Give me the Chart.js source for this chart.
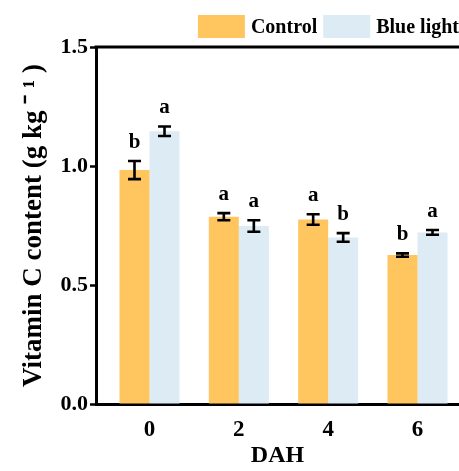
<!DOCTYPE html>
<html>
<head>
<meta charset="utf-8">
<script src="https://cdn.jsdelivr.net/npm/chart.js@4.4.1/dist/chart.umd.min.js"></script>
<style>
  html, body { margin: 0; padding: 0; background: #ffffff; }
  #wrap { width: 459px; height: 471px; position: relative; }
</style>
</head>
<body>
<div id="wrap"><canvas id="c"></canvas></div>
<script>
// Days after harvest (DAH)
const dah = [0, 2, 4, 6];

// Vitamin C content (g kg-1), means and standard deviations
const controlMeans = [0.983, 0.787, 0.775, 0.626];
const controlErr   = [0.038, 0.015, 0.022, 0.007];
const blueMeans    = [1.146, 0.748, 0.700, 0.721];
const blueErr      = [0.020, 0.024, 0.018, 0.010];

// Significance letters
const controlLetters = ['b', 'a', 'a', 'b'];
const blueLetters    = ['a', 'a', 'b', 'a'];

const seriesNames = ['Control', 'Blue light'];
const yTicks = [0, 0.5, 1.0, 1.5];

const SERIF = '"Liberation Serif", "Times New Roman", serif';
const ORANGE = '#FFC660';
const BLUE = '#DDEBF5';

const errors = [controlErr, blueErr];
const letters = [controlLetters, blueLetters];

// Error bars with caps plus significance letters above each bar
const errorBarPlugin = {
  id: 'errorBars',
  afterDatasetsDraw(chart) {
    const ctx = chart.ctx;
    const y = chart.scales.y;
    ctx.save();
    chart.data.datasets.forEach((ds, di) => {
      const meta = chart.getDatasetMeta(di);
      meta.data.forEach((bar, i) => {
        const v = ds.data[i].y;
        const e = errors[di][i];
        const yHi = y.getPixelForValue(v + e);
        const yLo = y.getPixelForValue(v - e);
        const cap = 6.5;
        ctx.strokeStyle = '#000';
        ctx.lineWidth = 2.6;
        ctx.lineCap = 'butt';
        ctx.beginPath();
        ctx.moveTo(bar.x, yHi); ctx.lineTo(bar.x, yLo);
        ctx.moveTo(bar.x - cap, yHi); ctx.lineTo(bar.x + cap, yHi);
        ctx.moveTo(bar.x - cap, yLo); ctx.lineTo(bar.x + cap, yLo);
        ctx.stroke();
        ctx.fillStyle = '#000';
        ctx.font = 'bold 21px ' + SERIF;
        ctx.textAlign = 'center';
        ctx.textBaseline = 'alphabetic';
        ctx.fillText(letters[di][i], bar.x, yHi - 13);
      });
    });
    ctx.restore();
  }
};

// Top frame line of the plot area
const frameTopPlugin = {
  id: 'frameTop',
  afterDraw(chart) {
    const {ctx, chartArea} = chart;
    ctx.save();
    ctx.strokeStyle = '#000';
    ctx.lineWidth = 3;
    ctx.beginPath();
    ctx.moveTo(chartArea.left - 1.5, chartArea.top);
    ctx.lineTo(chartArea.right, chartArea.top);
    ctx.stroke();
    ctx.restore();
  }
};

// Legend: filled boxes with labels, right-aligned above the plot
const legendPlugin = {
  id: 'boxLegend',
  afterDraw(chart) {
    const ctx = chart.ctx;
    const boxW = 47, boxH = 23, gap = 6, boxTop = 15;
    ctx.save();
    ctx.font = 'bold 20px ' + SERIF;
    const items = chart.data.datasets.map(ds => ({
      label: ds.label, color: ds.backgroundColor, w: ctx.measureText(ds.label).width
    }));
    let total = 0;
    items.forEach((it, i) => { total += boxW + gap + it.w + (i < items.length - 1 ? gap : 0); });
    let x = chart.width - total;
    items.forEach(it => {
      ctx.fillStyle = it.color;
      ctx.fillRect(x, boxTop, boxW, boxH);
      x += boxW + gap;
      ctx.fillStyle = '#000';
      ctx.textAlign = 'left';
      ctx.textBaseline = 'middle';
      ctx.fillText(it.label, x, boxTop + boxH / 2 + 1);
      x += it.w + gap;
    });
    ctx.restore();
  }
};

new Chart(document.getElementById('c'), {
  type: 'bar',
  data: {
    datasets: [
      {
        label: seriesNames[0],
        data: dah.map((d, i) => ({ x: d, y: controlMeans[i] })),
        backgroundColor: ORANGE,
        borderWidth: 0
      },
      {
        label: seriesNames[1],
        data: dah.map((d, i) => ({ x: d, y: blueMeans[i] })),
        backgroundColor: BLUE,
        borderWidth: 0
      }
    ]
  },
  options: {
    responsive: true,
    maintainAspectRatio: false,
    animation: false,
    categoryPercentage: 0.672,
    barPercentage: 1.0,
    layout: { padding: { top: 47, left: 0, right: 0, bottom: 0 } },
    plugins: {
      legend: { display: false },
      tooltip: { enabled: false }
    },
    scales: {
      x: {
        type: 'linear',
        min: -1.198,
        max: 6.929,
        offset: false,
        afterBuildTicks: s => { s.ticks = dah.map(v => ({ value: v })); },
        afterFit: s => { s.height = 67; },
        grid: { display: false, drawTicks: false, offset: false },
        border: { display: true, color: '#000', width: 3 },
        ticks: {
          color: '#000',
          padding: 12,
          font: { family: SERIF, size: 23, weight: 'bold' },
          callback: v => String(v)
        },
        title: {
          display: true,
          text: 'DAH',
          color: '#000',
          padding: { top: 0, bottom: 1 },
          font: { family: SERIF, size: 24, weight: 'bold' }
        }
      },
      y: {
        min: 0,
        max: 1.5,
        afterBuildTicks: s => { s.ticks = yTicks.map(v => ({ value: v })); },
        afterFit: s => { s.width = 96; },
        grid: {
          display: true,
          drawOnChartArea: false,
          drawTicks: true,
          tickLength: 6,
          tickWidth: 2.5,
          tickColor: '#000'
        },
        border: { display: true, color: '#000', width: 3 },
        ticks: {
          color: '#000',
          padding: 2,
          font: { family: SERIF, size: 22, weight: 'bold' },
          callback: v => Number(v).toFixed(1)
        },
        title: {
          display: true,
          text: 'Vitamin C content (g kg ⁻ ¹ )',
          color: '#000',
          padding: { top: 18, bottom: 0 },
          font: { family: SERIF, size: 27, weight: 'bold' }
        }
      }
    }
  },
  plugins: [errorBarPlugin, frameTopPlugin, legendPlugin]
});
</script>
</body>
</html>
